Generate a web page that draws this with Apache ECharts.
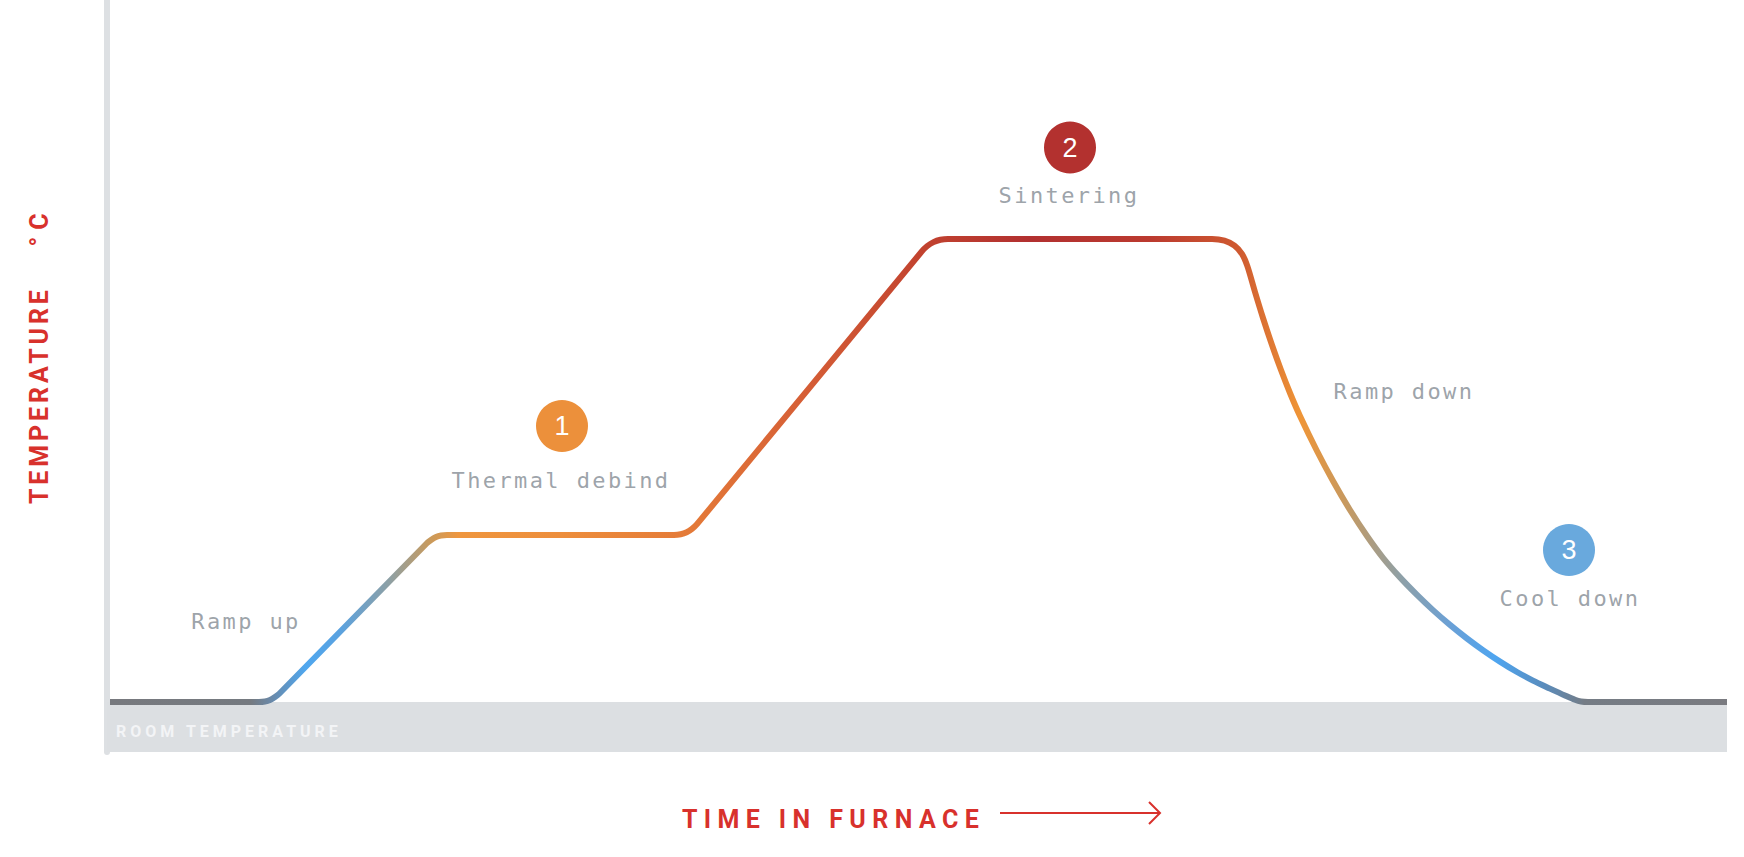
<!DOCTYPE html>
<html><head><meta charset="utf-8">
<script src="https://cdn.jsdelivr.net/npm/echarts@6/dist/echarts.min.js"></script>
<style>html,body{margin:0;padding:0;background:#fff}#chart{width:1744px;height:857px}</style>
</head><body><div id="chart"></div>
<script>
// Furnace profile: time (arbitrary units) and temperature (arbitrary °C units)
const timeVals = [3, 152, 158, 163, 168, 172.5, 319.6, 324, 329, 334, 340, 567, 573.7, 579.7, 585, 590, 814.8, 820.3, 826.5, 833.4, 841, 1105, 1117.5, 1127.5, 1135.1, 1140.3, 1148, 1156, 1165, 1174, 1183, 1193, 1210, 1226, 1243, 1260, 1276, 1293, 1310, 1326, 1343, 1360, 1376, 1393, 1410, 1426, 1443, 1458, 1468, 1474, 1481, 1620];
const tempVals = [100, 100, 101, 104, 110, 117, 417, 424, 430, 433, 434, 434, 435.4, 439.4, 446.2, 455.6, 1001.2, 1012, 1019.8, 1024.4, 1026, 1026, 1022.6, 1012.6, 995.8, 972.2, 920, 868, 814, 764, 718, 672, 602, 542, 484, 432, 388.4, 349.2, 314.2, 283.8, 254.2, 227, 203.6, 180.8, 160, 142.8, 126.8, 113, 104.4, 101, 100, 100];
const roomTemp = 100;
const timeMax = 1620;
const tempMax = 1504;

const stepNumbers = ['1', '2', '3'];
const stepTime = [455, 963, 1462];
const stepTemp = [652, 1209, 404];

const phaseNames = ['Ramp up', 'Thermal debind', 'Sintering', 'Ramp down', 'Cool down'];
const phaseTime = [139, 454, 962, 1297, 1463];
const phaseTemp = [262, 543, 1113, 721, 307];

const xAxisName = 'TIME IN FURNACE';
const yAxisWord = 'TEMPERATURE';
const yAxisUnit = '°C';
const bandLabel = 'ROOM TEMPERATURE';

// styles
const stepColors = ['#ec903b', '#b3312f', '#69a9dd'];
const RED = '#d8312c';
const MONO = 'DejaVu Sans Mono';

const chart = echarts.init(document.getElementById('chart'), null, {renderer: 'svg'});

const lineData = timeVals.map((t, i) => [t, tempVals[i]]);
const stepData = stepTime.map((t, i) => ({value: [t, stepTemp[i], stepNumbers[i]], itemStyle: {color: stepColors[i], opacity: 1}}));
const phaseData = phaseTime.map((t, i) => [t, phaseTemp[i], phaseNames[i]]);

const option = {
  backgroundColor: '#ffffff',
  animation: false,
  grid: {left: 107, right: 17, top: 0, bottom: 105},
  xAxis: {
    type: 'value', min: 0, max: timeMax,
    axisLine: {show: false}, axisTick: {show: false}, axisLabel: {show: false}, splitLine: {show: false},
    name: xAxisName, nameLocation: 'middle', nameGap: 55,
    nameTextStyle: {color: RED, fontFamily: 'Roboto', fontWeight: 'bold', fontSize: 25, padding: [0, 167, 0, 0]}
  },
  yAxis: {
    type: 'value', min: 0, max: tempMax,
    axisLine: {show: true, lineStyle: {color: '#dde0e3', width: 6}},
    axisTick: {show: false}, axisLabel: {show: false}, splitLine: {show: false},
    name: '{t|' + yAxisWord + '} {c|' + yAxisUnit + '}', nameLocation: 'middle', nameRotate: 90, nameGap: 55,
    nameTextStyle: {
      color: RED, fontFamily: 'Roboto', fontWeight: 'bold', fontSize: 25, padding: [0, 0, 0, 56],
      rich: {
        t: {color: RED, fontFamily: 'Roboto', fontWeight: 'bold', fontSize: 25},
        c: {color: RED, fontFamily: 'Roboto', fontWeight: 'bold', fontSize: 25, padding: [0, 0, 0, 62]}
      }
    }
  },
  graphic: [
    {type: 'line', shape: {x1: 1000, y1: 813, x2: 1160, y2: 813}, style: {stroke: RED, lineWidth: 2}},
    {type: 'polyline', shape: {points: [[1149, 802], [1160, 813], [1149, 824]]}, style: {stroke: RED, lineWidth: 2, fill: null}}
  ],
  series: [
    {
      type: 'line', data: [], z: 1, silent: true,
      markArea: {
        silent: true,
        itemStyle: {color: '#dcdfe2'},
        label: {show: true, position: 'insideLeft', distance: 9, offset: [0, 4], color: '#f3f4f6', fontFamily: 'Roboto', fontWeight: 'bold', fontSize: 16, formatter: bandLabel},
        data: [[{xAxis: 0, yAxis: 0}, {xAxis: timeMax, yAxis: roomTemp}]]
      }
    },
    {
      type: 'line', data: lineData, z: 3, showSymbol: false, smooth: 0.3, silent: true,
      lineStyle: {
        width: 6, cap: 'butt', join: 'round',
        color: {
          type: 'linear', x: 0, y: 0, x2: 1, y2: 0,
          colorStops: [
            {offset: 0, color: '#77797e'},
            {offset: 0.087, color: '#757a80'},
            {offset: 0.099, color: '#6b88a6'},
            {offset: 0.121, color: '#4fa7ef'},
            {offset: 0.142, color: '#5aa2e0'},
            {offset: 0.173, color: '#8ea0a4'},
            {offset: 0.198, color: '#c99a5c'},
            {offset: 0.216, color: '#ef963e'},
            {offset: 0.278, color: '#ed8e3c'},
            {offset: 0.359, color: '#e47a38'},
            {offset: 0.427, color: '#d65f36'},
            {offset: 0.501, color: '#c2432f'},
            {offset: 0.569, color: '#b23030'},
            {offset: 0.643, color: '#bb3a2f'},
            {offset: 0.699, color: '#cf5a30'},
            {offset: 0.736, color: '#ef9537'},
            {offset: 0.764, color: '#c7995f'},
            {offset: 0.798, color: '#8fa0a6'},
            {offset: 0.829, color: '#6aa0d6'},
            {offset: 0.857, color: '#4ea5f0'},
            {offset: 0.887, color: '#5a8cbc'},
            {offset: 0.912, color: '#757c85'},
            {offset: 1, color: '#7a7b80'}
          ]
        }
      }
    },
    {
      type: 'scatter', data: stepData, z: 4, symbol: 'circle', symbolSize: 52, silent: true,
      itemStyle: {opacity: 1},
      label: {show: true, position: 'inside', formatter: p => p.value[2], color: '#ffffff', fontFamily: 'Liberation Sans', fontSize: 27}
    },
    {
      type: 'scatter', data: phaseData, z: 4, symbolSize: 1, silent: true,
      itemStyle: {color: 'rgba(0,0,0,0)'},
      label: {show: true, position: 'inside', formatter: p => p.value[2], color: '#848b93', fontFamily: MONO, fontSize: 22}
    }
  ]
};
chart.setOption(option);

const spacing = {};
spacing[xAxisName] = 6.4;
spacing[yAxisWord] = 3.9;
spacing[yAxisUnit] = 7;
spacing[bandLabel] = 4;
phaseNames.forEach(n => spacing[n] = 2.4);
function applySpacing() {
  document.querySelectorAll('#chart svg text').forEach(t => {
    const s = spacing[t.textContent];
    if (s != null) t.style.letterSpacing = s + 'px';
  });
}
applySpacing();
chart.on('finished', applySpacing);
</script></body></html>
